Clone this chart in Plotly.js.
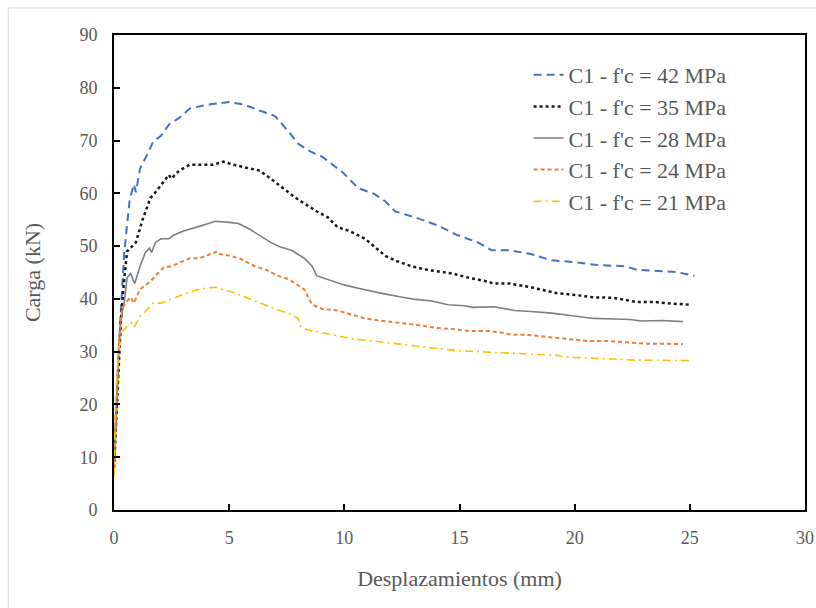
<!DOCTYPE html>
<html>
<head>
<meta charset="utf-8">
<script src="https://cdn.plot.ly/plotly-3.0.1.min.js"></script>
<style>html,body{margin:0;padding:0;background:#fff;}#chart{width:816px;height:608px;}</style>
</head>
<body>
<div id="chart"></div>
<script>
// Series names
const seriesNames = ["C1 - f'c = 42 MPa", "C1 - f'c = 35 MPa", "C1 - f'c = 28 MPa", "C1 - f'c = 24 MPa", "C1 - f'c = 21 MPa"];

// 42 MPa
const x42 = [0,0.1,0.2,0.3,0.45,0.68,0.86,0.95,1.13,1.47,1.7,2.04,2.4,2.8,3.3,4.07,5,5.66,6.3,6.8,7.0,7.6,8.0,8.5,9.05,9.95,10.6,11.3,11.8,12.2,13.1,14.0,14.9,15.8,16.4,17.2,18.1,19.0,19.9,21.0,22.2,22.7,23.5,24.4,25.2];
const y42 = [8,20,30,38,49,58.8,61.7,60.2,64.7,67.6,69.8,70.9,73.1,74.2,76.1,76.8,77.3,76.8,75.7,75,74.6,71.6,69.4,68,66.9,63.9,61,59.9,58.4,56.6,55.4,54,52.1,50.7,49.2,49.2,48.5,47.3,47,46.4,46.2,45.5,45.3,45.1,44.4];

// 35 MPa
const x35 = [0,0.1,0.2,0.3,0.45,0.57,0.95,1.24,1.58,1.8,2.38,2.49,2.83,3.28,3.85,4.3,4.75,5.2,5.9,6.33,6.8,7.35,7.9,8.4,8.8,9.3,9.7,10.2,10.9,11.3,11.8,12.2,12.9,13.6,14.3,14.7,15.4,16.1,16.5,17.2,18.1,18.8,19.2,20.1,20.8,21.7,22.4,22.7,23.5,24.2,25.0];
const y35 = [8,18,28,36,44,49,50.7,55,59.1,60.2,63.5,62.8,64.3,65.4,65.4,65.4,66,65.4,64.7,64.3,62.8,61,59.1,57.7,56.6,55.4,53.6,52.9,51.4,49.9,48.1,47.3,46.2,45.5,45.1,44.8,44,43.4,42.9,42.9,42.2,41.5,41.1,40.7,40.3,40.2,39.6,39.4,39.4,39.1,38.9];

// 28 MPa
const x28 = [0,0.1,0.2,0.3,0.45,0.57,0.72,0.9,1.13,1.36,1.54,1.63,1.8,2.04,2.38,2.6,3.05,3.6,4.07,4.4,5,5.4,5.9,6.3,6.8,7.2,7.7,8.26,8.6,8.8,9.3,9.95,10.6,11.1,11.8,12.4,13.1,13.8,14.5,15.2,15.6,16.5,17.0,17.4,18.1,19.0,19.9,20.8,21.7,22.4,22.9,23.8,24.7];
const y28 = [8,20,30,36,39.6,44,44.8,42.9,46.2,48.8,49.6,48.8,50.7,51.4,51.4,52.1,52.9,53.6,54.3,54.7,54.5,54.3,53.2,52.1,50.7,49.9,49.2,47.7,46.2,44.4,43.7,42.7,42,41.5,40.9,40.4,39.9,39.6,38.9,38.7,38.4,38.5,38.1,37.8,37.6,37.3,36.8,36.3,36.2,36.1,35.8,35.9,35.7];

// 24 MPa
const x24 = [0,0.1,0.2,0.34,0.57,0.72,0.86,1.13,1.58,1.8,2.15,2.49,2.7,3.3,3.7,4.2,4.5,4.6,5,5.5,6.1,6.6,7.1,7.6,8.1,8.26,8.6,9.05,9.7,10.4,10.9,11.5,12.2,13.1,14.0,14.7,15.4,16.3,16.7,17.3,17.9,18.8,19.5,20.1,20.6,21.5,22.4,23.1,24.0,24.7];
const y24 = [8,20,30,38.1,39.6,40.3,39.2,41.8,43.3,44.4,45.9,46.2,46.6,47.7,47.7,48.5,49,48.5,48.2,47.6,46.2,45.5,44.4,43.7,42.2,41.8,38.9,38.1,37.8,37,36.3,35.9,35.6,35.1,34.5,34.3,33.9,33.9,33.7,33.2,33.2,32.8,32.6,32.3,32,32,31.7,31.5,31.5,31.4];

// 21 MPa
const x21 = [0,0.05,0.18,0.34,0.57,0.8,0.9,1.13,1.47,1.7,2.04,2.49,2.94,3.4,3.96,4.4,4.75,5.2,5.66,6.33,7.0,7.7,8.0,8.1,8.4,9.05,9.7,10.4,11.3,12.2,13.1,14.0,14.9,15.8,16.5,17.4,18.3,19.2,19.9,20.8,21.7,22.6,23.5,24.4,25.1];
const y21 = [6.5,19.7,29.3,33.7,34.8,35.6,34.8,36.7,38.1,39.2,39.2,40,40.7,41.5,42,42.2,41.7,41.2,40.4,39.2,38.1,37,36.3,34.8,34.1,33.6,33,32.4,32,31.5,31,30.6,30.2,30,29.8,29.7,29.5,29.3,28.9,28.8,28.6,28.4,28.4,28.3,28.3];

const xTicks = [0,5,10,15,20,25,30];
const yTicks = [0,10,20,30,40,50,60,70,80,90];

const traces = [
  {x:x42, y:y42, name:seriesNames[0], mode:'lines', line:{color:'#4472C4', width:2, dash:'8px,5px'}},
  {x:x35, y:y35, name:seriesNames[1], mode:'lines', line:{color:'#1a1a1a', width:2.5, dash:'dot'}},
  {x:x28, y:y28, name:seriesNames[2], mode:'lines', line:{color:'#7f7f7f', width:1.6}},
  {x:x24, y:y24, name:seriesNames[3], mode:'lines', line:{color:'#ED7D31', width:2, dash:'4px,3px'}},
  {x:x21, y:y21, name:seriesNames[4], mode:'lines', line:{color:'#FFC000', width:1.6, dash:'8px,4px,2px,4px'}}
];

const SERIF = '"Times New Roman", "Liberation Serif", "DejaVu Serif", serif';
const tickFont = {family:SERIF, size:18, color:'#595959'};

const layout = {
  width:816, height:608,
  margin:{l:114, r:11, t:35, b:98},
  paper_bgcolor:'#fff', plot_bgcolor:'#fff',
  font:{family:SERIF, color:'#595959'},
  showlegend:true,
  legend:{x:0.6, y:0.96, xanchor:'left', yanchor:'top', bgcolor:'rgba(0,0,0,0)',
    font:{family:SERIF, size:22, color:'#595959'},
    tracegroupgap:0, itemwidth:30},
  xaxis:{range:[0,30], tickvals:xTicks, ticktext:xTicks.map(String), showgrid:false, zeroline:false,
    showline:true, linecolor:'#000', linewidth:2, mirror:true, ticks:'inside', ticklen:6, tickcolor:'#000', tickwidth:2,
    tickfont:tickFont, ticklabelstandoff:10,
    title:{text:'Desplazamientos (mm)', font:{family:SERIF, size:22, color:'#595959'}, standoff:24}},
  yaxis:{range:[0,90], tickvals:yTicks, ticktext:yTicks.map(String), showgrid:false, zeroline:false,
    showline:true, linecolor:'#000', linewidth:2, mirror:true, ticks:'inside', ticklen:6, tickcolor:'#000', tickwidth:2,
    tickfont:tickFont, ticklabelstandoff:11,
    title:{text:'Carga (kN)', font:{family:SERIF, size:22, color:'#595959'}, standoff:33}},
  shapes:[{type:'rect', xref:'paper', yref:'paper', x0:-0.153, x1:1.05, y0:-0.3, y1:1.057, line:{color:'#d9d9d9', width:1}, layer:'below'}]
};

Plotly.newPlot('chart', traces, layout, {displayModeBar:false, staticPlot:true});
</script>
</body>
</html>
